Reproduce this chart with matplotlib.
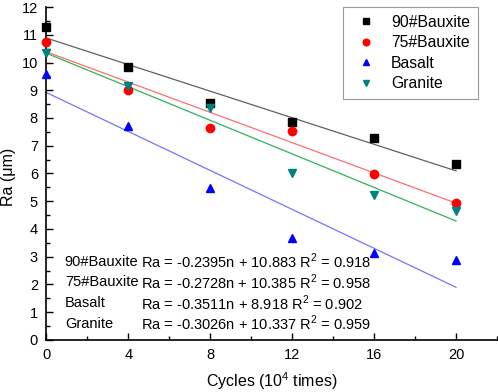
import matplotlib
matplotlib.use('Agg')
import matplotlib.pyplot as plt
import numpy as np
from matplotlib.ticker import MultipleLocator

plt.rcParams['font.family'] = ['Liberation Sans', 'DejaVu Sans']
plt.rcParams['mathtext.fontset'] = 'custom'
plt.rcParams['mathtext.rm'] = 'Liberation Sans'

cycles = [0, 4, 8, 12, 16, 20]
bauxite90 = [11.29, 9.83, 8.53, 7.86, 7.27, 6.33]
bauxite75 = [10.75, 9.01, 7.63, 7.54, 5.98, 4.95]
basalt = [9.59, 7.72, 5.47, 3.66, 3.12, 2.88]
granite = [10.33, 9.15, 8.35, 6.00, 5.23, 4.66]

names = ['90#Bauxite', '75#Bauxite', 'Basalt', 'Granite']
slopes = [-0.2395, -0.2728, -0.3511, -0.3026]
intercepts = [10.883, 10.385, 8.918, 10.337]
r2 = [0.918, 0.958, 0.902, 0.959]

marker_colors = ['black', 'red', 'blue', '#008080']
line_colors = ['#606060', '#ff6e6e', '#7474ff', '#2eb35a']
markers = ['s', 'o', '^', 'v']

fig = plt.figure(figsize=(4.98, 3.92), dpi=100)
ax = fig.add_axes([0.093, 0.133, 0.905, 0.849])

series = [bauxite90, bauxite75, basalt, granite]
fit_x = np.array([cycles[0], cycles[-1]])
for i, ys in enumerate(series):
    ax.plot(fit_x, slopes[i] * fit_x + intercepts[i], color=line_colors[i], lw=0.9, zorder=2)
for i, ys in enumerate(series):
    ax.plot(cycles, ys, linestyle='none', marker=markers[i], color=marker_colors[i],
            markersize=6, label=names[i], zorder=3, clip_on=False)

ax.set_xlim(0, 22)
ax.set_ylim(0, 12)
ax.xaxis.set_major_locator(MultipleLocator(4))
ax.xaxis.set_minor_locator(MultipleLocator(2))
ax.yaxis.set_major_locator(MultipleLocator(1))
ax.yaxis.set_minor_locator(MultipleLocator(0.5))
ax.set_xticks([0, 4, 8, 12, 16, 20])
ax.tick_params(which='major', direction='in', length=5, width=1, labelsize=10.5, pad=6)
ax.tick_params(which='minor', direction='in', length=3, width=1)
ax.spines['top'].set_visible(False)
ax.spines['right'].set_visible(False)
ax.spines['left'].set_linewidth(1.2)
ax.spines['bottom'].set_linewidth(1.2)

ax.set_xlabel('Cycles (10$^4$ times)', fontsize=11.5)
ax.set_ylabel('Ra (μm)', fontsize=11.5)
ax.xaxis.set_label_coords(0.5, -0.092)
ax.yaxis.set_label_coords(-0.068, 0.49)

leg = ax.legend(loc='upper right', bbox_to_anchor=(0.958, 1.0), borderaxespad=0, fontsize=11.3,
                frameon=True, fancybox=False, edgecolor='#808080', handletextpad=0.6,
                borderpad=0.5, labelspacing=0.35, handlelength=2.0, markerscale=0.8)
leg.get_frame().set_linewidth(0.8)

text_y = [2.82, 2.08, 1.32, 0.58]
for i in range(4):
    ax.text(0.9, text_y[i], names[i], fontsize=10.5, va='center')
    eq = 'Ra = %.4fn + %.3f R$^2$ = %.3f' % (slopes[i], intercepts[i], r2[i])
    ax.text(4.6, text_y[i], eq, fontsize=10.5, va='center')

fig.savefig('out.png', dpi=100)
